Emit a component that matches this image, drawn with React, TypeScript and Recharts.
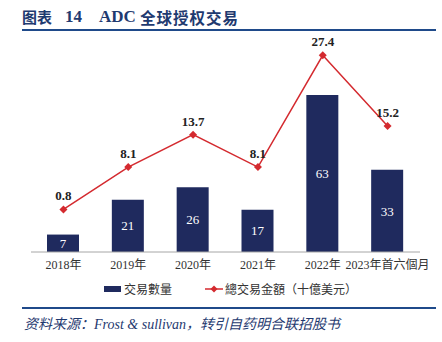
import React from 'react'
import {
  ComposedChart,
  Bar,
  Line,
  XAxis,
  YAxis,
  LabelList
} from 'recharts'

const years = ['2018年', '2019年', '2020年', '2021年', '2022年', '2023年首六個月']
const dealCounts = [7, 21, 26, 17, 63, 33]
const dealValues = [0.8, 8.1, 13.7, 8.1, 27.4, 15.2]

const NAVY = '#1f2a5e'
const RED = '#d42a2f'
const TITLE = '#1f3a70'
const SERIF = '"Liberation Serif", "DejaVu Serif", "Noto Sans CJK SC", serif'

const chartData = years.map((year, i) => ({
  year,
  count: dealCounts[i],
  value: dealValues[i]
}))

// 菱形标记
const Diamond = (props: any) => {
  const { cx, cy } = props
  if (cx == null || cy == null) return null
  const r = 4
  return (
    <polygon
      points={`${cx},${cy - r} ${cx + r},${cy} ${cx},${cy + r} ${cx - r},${cy}`}
      fill={RED}
    />
  )
}

const App = () => {
  return (
    <div style={{ position: 'absolute', left: 0, top: 0, width: 442, height: 342, background: '#fff' }}>
      {/* 标题 */}
      <div style={{ position: 'absolute', left: 22, top: 7, height: 20, color: TITLE, fontWeight: 'bold', whiteSpace: 'nowrap' }}>
        <span style={{ position: 'absolute', left: 0, fontSize: 15, fontFamily: '"Noto Sans CJK SC", sans-serif', lineHeight: '20px' }}>图表</span>
        <span style={{ position: 'absolute', left: 43, fontSize: 17, fontFamily: SERIF, lineHeight: '20px' }}>14</span>
        <span style={{ position: 'absolute', left: 77, fontSize: 17, fontFamily: SERIF, lineHeight: '20px' }}>ADC</span>
        <span style={{ position: 'absolute', left: 118, fontSize: 15.5, letterSpacing: 1, fontFamily: '"Noto Sans CJK SC", sans-serif', lineHeight: '20px' }}>全球授权交易</span>
      </div>
      <div style={{ position: 'absolute', left: 22, top: 29, width: 414, height: 2, background: '#1f4a8a' }} />

      <div style={{ position: 'absolute', left: 0, top: 0 }}>
        <ComposedChart
          width={442}
          height={342}
          data={chartData}
          margin={{ top: 40, right: 22, bottom: 60, left: 31 }}
        >
          <XAxis
            dataKey="year"
            height={30}
            interval={0}
            tickLine={false}
            axisLine={{ stroke: '#a6a6a6' }}
            tick={{ fontSize: 12, fill: '#333', fontFamily: SERIF }}
          />
          <YAxis yAxisId="count" hide domain={[0, 85.1]} />
          <YAxis yAxisId="value" hide domain={[-6.56, 30.05]} />
          <Bar
            yAxisId="count"
            dataKey="count"
            fill={NAVY}
            barSize={32}
            isAnimationActive={false}
          >
            <LabelList
              dataKey="count"
              position="center"
              fill="#fff"
              fontSize={13}
              fontFamily={SERIF}
            />
          </Bar>
          <Line
            yAxisId="value"
            dataKey="value"
            stroke={RED}
            strokeWidth={1.5}
            dot={<Diamond />}
            activeDot={false}
            isAnimationActive={false}
          >
            <LabelList
              dataKey="value"
              position="top"
              offset={9}
              fill="#222"
              fontSize={13}
              fontWeight="bold"
              fontFamily={SERIF}
            />
          </Line>
        </ComposedChart>
      </div>

      {/* 图例 */}
      <div style={{ position: 'absolute', left: 104, top: 286, width: 17, height: 6, background: NAVY }} />
      <div style={{ position: 'absolute', left: 124, top: 280, fontSize: 12, lineHeight: '18px', color: '#333', fontFamily: '"Noto Sans CJK SC", sans-serif', whiteSpace: 'nowrap' }}>交易數量</div>
      <svg style={{ position: 'absolute', left: 204, top: 284 }} width={20} height={10}>
        <line x1={1} y1={5} x2={19} y2={5} stroke={RED} strokeWidth={1.5} />
        <polygon points="10,1.5 13.5,5 10,8.5 6.5,5" fill={RED} />
      </svg>
      <div style={{ position: 'absolute', left: 225, top: 280, fontSize: 12, lineHeight: '18px', color: '#333', fontFamily: '"Noto Sans CJK SC", sans-serif', whiteSpace: 'nowrap' }}>總交易金額（十億美元）</div>

      {/* 资料来源 */}
      <div style={{ position: 'absolute', left: 22, top: 307, width: 414, height: 1.5, background: '#1f4a8a' }} />
      <div style={{ position: 'absolute', left: 24, top: 316, fontSize: 14, lineHeight: '18px', fontStyle: 'italic', color: TITLE, fontFamily: SERIF, whiteSpace: 'nowrap' }}>
        资料来源：Frost &amp; sullivan，转引自药明合联招股书
      </div>
    </div>
  )
}

export default App
